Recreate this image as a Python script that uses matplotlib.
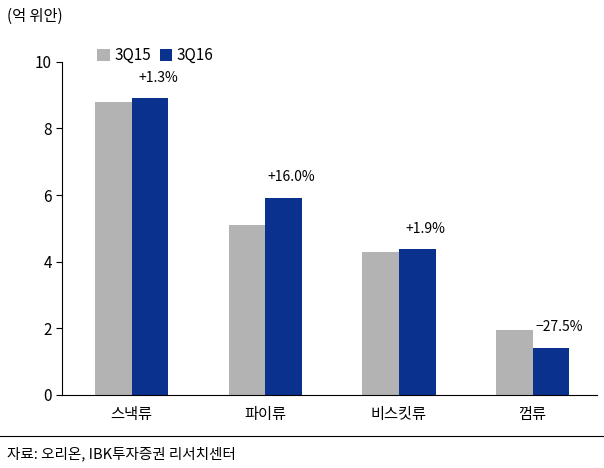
import matplotlib
matplotlib.use("Agg")
import matplotlib.pyplot as plt
import numpy as np

plt.rcParams['font.family'] = ['Noto Sans CJK KR']

categories = ["스낵류", "파이류", "비스킷류", "껌류"]
q15 = [8.8, 5.1, 4.3, 1.95]
q16 = [8.9, 5.92, 4.38, 1.42]
labels = ["+1.3%", "+16.0%", "+1.9%", "\u221227.5%"]
series = ["3Q15", "3Q16"]

fig = plt.figure(figsize=(6.04, 4.68), dpi=100)
ax = fig.add_axes([0.103, 0.156, 0.885, 0.712])
x = np.arange(len(categories))
w = 0.275
ax.bar(x - w/2, q15, w, color="#B3B3B3", label=series[0])
ax.bar(x + w/2, q16, w, color="#0B318F", label=series[1])
for xi, v, t in zip(x, q16, labels):
    ax.text(xi + w/2 + 0.06, v + 0.4, t, ha="center", va="bottom", fontsize=10)
ax.set_ylim(0, 10)
ax.set_xlim(-0.52, 3.48)
ax.set_yticks(range(0, 11, 2))
ax.set_xticks(x)
ax.set_xticklabels(categories, fontsize=11)
ax.tick_params(axis='y', labelsize=11, direction='out', length=4)
ax.tick_params(axis='x', length=0, pad=8)
for s in ["top", "right"]:
    ax.spines[s].set_visible(False)
ax.legend(loc="upper left", bbox_to_anchor=(0.04, 1.085), ncol=2, frameon=False,
          fontsize=11, handlelength=0.8, handleheight=0.8, columnspacing=0.6, handletextpad=0.3)
fig.text(0.012, 0.955, "(억 위안)", fontsize=11)
fig.add_artist(plt.Line2D([0, 1], [0.068, 0.068], color="black", lw=0.8))
fig.text(0.012, 0.02, "자료: 오리온, IBK투자증권 리서치센터", fontsize=10.5)
fig.savefig("out.png", dpi=100)
